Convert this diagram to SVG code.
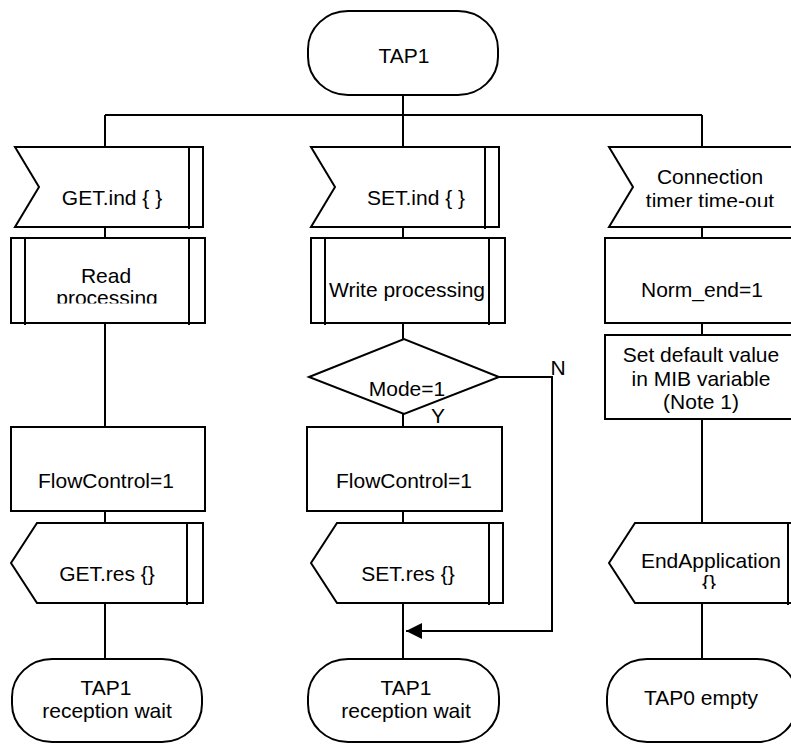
<svg xmlns="http://www.w3.org/2000/svg" width="791" height="744" viewBox="0 0 791 744">
<defs>
<style>
.s{fill:#fff;stroke:#000;stroke-width:2}
.l{fill:none;stroke:#000;stroke-width:2}
text{font-family:"Liberation Sans",Arial,sans-serif;font-size:21px;fill:#000;text-anchor:middle}
</style>
<marker id="ah" markerWidth="16" markerHeight="16" refX="16" refY="8" orient="auto" markerUnits="userSpaceOnUse">
<path d="M0,0 L16,8 L0,16 Z" fill="#000"/>
</marker>
<clipPath id="c1"><rect x="0" y="240" width="220" height="63.5"/></clipPath>
<clipPath id="c2"><rect x="600" y="150" width="191" height="57"/></clipPath>
<clipPath id="c3"><rect x="600" y="525" width="191" height="64"/></clipPath>
</defs>
<rect width="791" height="744" fill="#fff"/>
<g id="connectors">
<path class="l" d="M403,95 V147 M105,115 H702 M105,115 V147 M702,115 V147"/>
<path class="l" d="M105,227 V238 M105,323 V427 M105,511 V523 M105,603 V659"/>
<path class="l" d="M403,227 V238 M403,323 V339 M403,414 V427 M403,511 V523 M403,603 V659"/>
<path class="l" d="M702,227 V238 M702,323 V335 M702,419 V523 M702,603 V659"/>
<path class="l" d="M499,377 H552 V631 H406" marker-end="url(#ah)"/>
</g>
<g id="tap1-start">
<rect class="s" x="308" y="11" width="190" height="84" rx="40" ry="38"/>
<text x="404" y="63">TAP1</text>
</g>
<g id="get-ind">
<path class="s" d="M15,147 H203 V227 H15 L39,187 Z"/>
<path class="l" d="M189,147 V229"/>
<text x="112" y="205">GET.ind { }</text>
</g>
<g id="set-ind">
<path class="s" d="M311,147 H499 V227 H311 L335,187 Z"/>
<path class="l" d="M485,147 V229"/>
<text x="416" y="205">SET.ind { }</text>
</g>
<g id="conn-timeout">
<path class="s" d="M609,147 H797 V227 H609 L633,187 Z"/>
<g clip-path="url(#c2)">
<text x="710" y="184">Connection</text>
<text x="710" y="207.5">timer time-out</text>
</g>
</g>
<g id="read-proc">
<rect class="s" x="11" y="238" width="194" height="85"/>
<path class="l" d="M25,238 V325 M189,238 V325"/>
<g clip-path="url(#c1)">
<text x="106" y="283">Read</text>
<text x="107" y="304.5">processing</text>
</g>
</g>
<g id="write-proc">
<rect class="s" x="311" y="238" width="194" height="85"/>
<path class="l" d="M325,238 V325 M489,238 V325"/>
<text x="407" y="297">Write processing</text>
</g>
<g id="norm-end">
<rect class="s" x="605" y="238" width="194" height="85"/>
<text x="702" y="297">Norm_end=1</text>
</g>
<g id="mode-decision">
<path class="s" d="M309,377 L404,339 L499,377 L404,414 Z"/>
<text x="407" y="396">Mode=1</text>
<text x="438" y="423">Y</text>
<text x="558" y="375">N</text>
</g>
<g id="set-default">
<rect class="s" x="605" y="335" width="194" height="84"/>
<text x="701" y="362">Set default value</text>
<text x="701" y="386">in MIB variable</text>
<text x="701" y="409">(Note 1)</text>
</g>
<g id="flow1">
<rect class="s" x="11" y="427" width="194" height="84"/>
<text x="106" y="488">FlowControl=1</text>
</g>
<g id="flow2">
<rect class="s" x="307" y="427" width="195" height="84"/>
<text x="404" y="488">FlowControl=1</text>
</g>
<g id="get-res">
<path class="s" d="M37,523 H203 V603 H37 L11,563 Z"/>
<path class="l" d="M187,523 V605"/>
<text x="107" y="581">GET.res {}</text>
</g>
<g id="set-res">
<path class="s" d="M337,523 H503 V603 H337 L311,563 Z"/>
<path class="l" d="M489,523 V605"/>
<text x="408" y="581">SET.res {}</text>
</g>
<g id="end-app">
<path class="s" d="M635,523 H801 V603 H635 L609,563 Z"/>
<path class="l" d="M788,523 V605"/>
<g clip-path="url(#c3)">
<text x="711" y="568">EndApplication</text>
<text x="709" y="590">{}</text>
</g>
</g>
<g id="tap1-wait-1">
<rect class="s" x="12" y="659" width="190" height="83" rx="40" ry="38"/>
<text x="106" y="695">TAP1</text>
<text x="107" y="718">reception wait</text>
</g>
<g id="tap1-wait-2">
<rect class="s" x="308" y="659" width="191" height="83" rx="40" ry="38"/>
<text x="406" y="695">TAP1</text>
<text x="406" y="718">reception wait</text>
</g>
<g id="tap0-empty">
<rect class="s" x="607" y="659" width="190" height="83" rx="40" ry="38"/>
<text x="701" y="705">TAP0 empty</text>
</g>
</svg>
